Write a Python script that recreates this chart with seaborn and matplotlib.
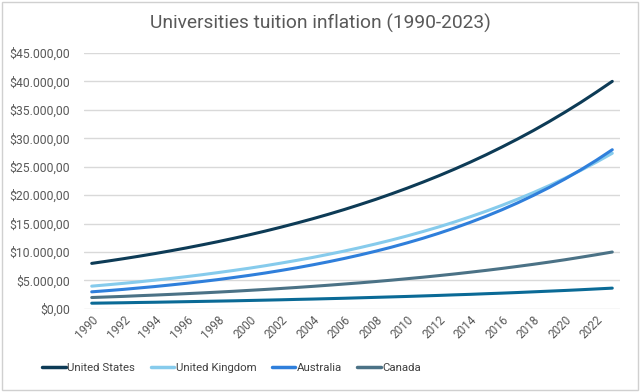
import matplotlib
matplotlib.use("Agg")
import matplotlib.pyplot as plt
import seaborn as sns
import pandas as pd
from matplotlib.ticker import FuncFormatter

# Tuition values
years = list(range(1990, 2024))
united_states = [8000, 8400, 8820, 9260, 9720, 10210, 10720, 11260, 11820, 12410,
                 13030, 13680, 14370, 15090, 15840, 16630, 17460, 18340, 19250, 20220,
                 21230, 22290, 23400, 24570, 25800, 27090, 28450, 29870, 31360, 32930,
                 34580, 36300, 38120, 40000]
united_kingdom = [4000, 4240, 4490, 4760, 5050, 5350, 5670, 6010, 6380, 6760,
                  7160, 7590, 8050, 8530, 9040, 9590, 10160, 10770, 11420, 12100,
                  12830, 13600, 14410, 15280, 16200, 17170, 18200, 19290, 20450, 21670,
                  22970, 24350, 25810, 27360]
australia = [3000, 3210, 3430, 3680, 3930, 4210, 4500, 4820, 5150, 5520,
             5900, 6310, 6760, 7230, 7740, 8280, 8860, 9480, 10140, 10850,
             11610, 12420, 13290, 14220, 15220, 16280, 17420, 18640, 19950, 21340,
             22840, 24440, 26150, 27980]
canada = [2000, 2100, 2200, 2320, 2430, 2550, 2680, 2810, 2950, 3100,
          3260, 3420, 3590, 3770, 3960, 4160, 4370, 4580, 4810, 5050,
          5310, 5570, 5850, 6140, 6450, 6770, 7110, 7470, 7840, 8230,
          8640, 9080, 9530, 10000]
fifth_country = [1000, 1040, 1080, 1130, 1170, 1220, 1270, 1320, 1370, 1420,
                 1480, 1540, 1600, 1670, 1730, 1800, 1870, 1950, 2030, 2110,
                 2190, 2280, 2370, 2470, 2560, 2670, 2770, 2880, 3000, 3120,
                 3240, 3370, 3510, 3650]

series = {
    "United States": united_states,
    "United Kingdom": united_kingdom,
    "Australia": australia,
    "Canada": canada,
    "Other": fifth_country,
}
colors = {
    "United States": "#0d3b56",
    "United Kingdom": "#86cbec",
    "Australia": "#2f7fdb",
    "Canada": "#4b7286",
    "Other": "#0a6a96",
}

df = pd.concat(
    [pd.DataFrame({"year": years, "tuition": v, "country": k}) for k, v in series.items()]
)

sns.set_theme(style="white")
plt.rcParams["font.family"] = ["Roboto", "DejaVu Sans"]

fig = plt.figure(figsize=(6.4, 3.92), dpi=100)
ax = fig.add_axes([0.131, 0.212, 0.838, 0.653])

sns.lineplot(data=df, x="year", y="tuition", hue="country", palette=colors,
             linewidth=2.2, ax=ax, legend=False)

ax.set_xlim(1989.5, 2023.5)
ax.set_ylim(0, 45000)
ax.set_yticks(range(0, 45001, 5000))
ax.set_xticks(range(1990, 2023, 2))


def euro_dollar(v, pos):
    s = f"{v:,.2f}"
    s = s.replace(",", "X").replace(".", ",").replace("X", ".")
    return "$" + s


ax.yaxis.set_major_formatter(FuncFormatter(euro_dollar))
ax.tick_params(axis="y", labelsize=8.8, labelcolor="#595959", length=0, pad=10)
ax.tick_params(axis="x", labelsize=8.5, labelcolor="#595959", length=0, pad=3)
for lab in ax.get_xticklabels():
    lab.set_rotation(45)
    lab.set_ha("right")
    lab.set_rotation_mode("anchor")

ax.grid(axis="y", color="#d9d9d9", linewidth=1)
ax.set_axisbelow(True)
for sp in ax.spines.values():
    sp.set_visible(False)
ax.set_xlabel("")
ax.set_ylabel("")

fig.text(0.5, 0.94, "Universities tuition inflation (1990-2023)", ha="center", va="center",
         fontsize=13.8, color="#595959")

# legend (fifth entry is hidden in the reference)
handles = [plt.Line2D([], [], color=colors[k], linewidth=2.5)
           for k in ["United States", "United Kingdom", "Australia", "Canada"]]
fig.legend(handles, ["United States", "United Kingdom", "Australia", "Canada"],
           loc="center left", bbox_to_anchor=(0.066, 0.06), ncol=4, frameon=False,
           fontsize=8.2, handlelength=2.05, handletextpad=0.15, columnspacing=1.35,
           labelcolor="#404040", borderpad=0, borderaxespad=0)

# chart area border
fig.patches.append(plt.Rectangle((0.003, 0.004), 0.994, 0.992, transform=fig.transFigure,
                                 fill=False, edgecolor="#d0d0d0", linewidth=1))

fig.savefig("out.png", dpi=100)
